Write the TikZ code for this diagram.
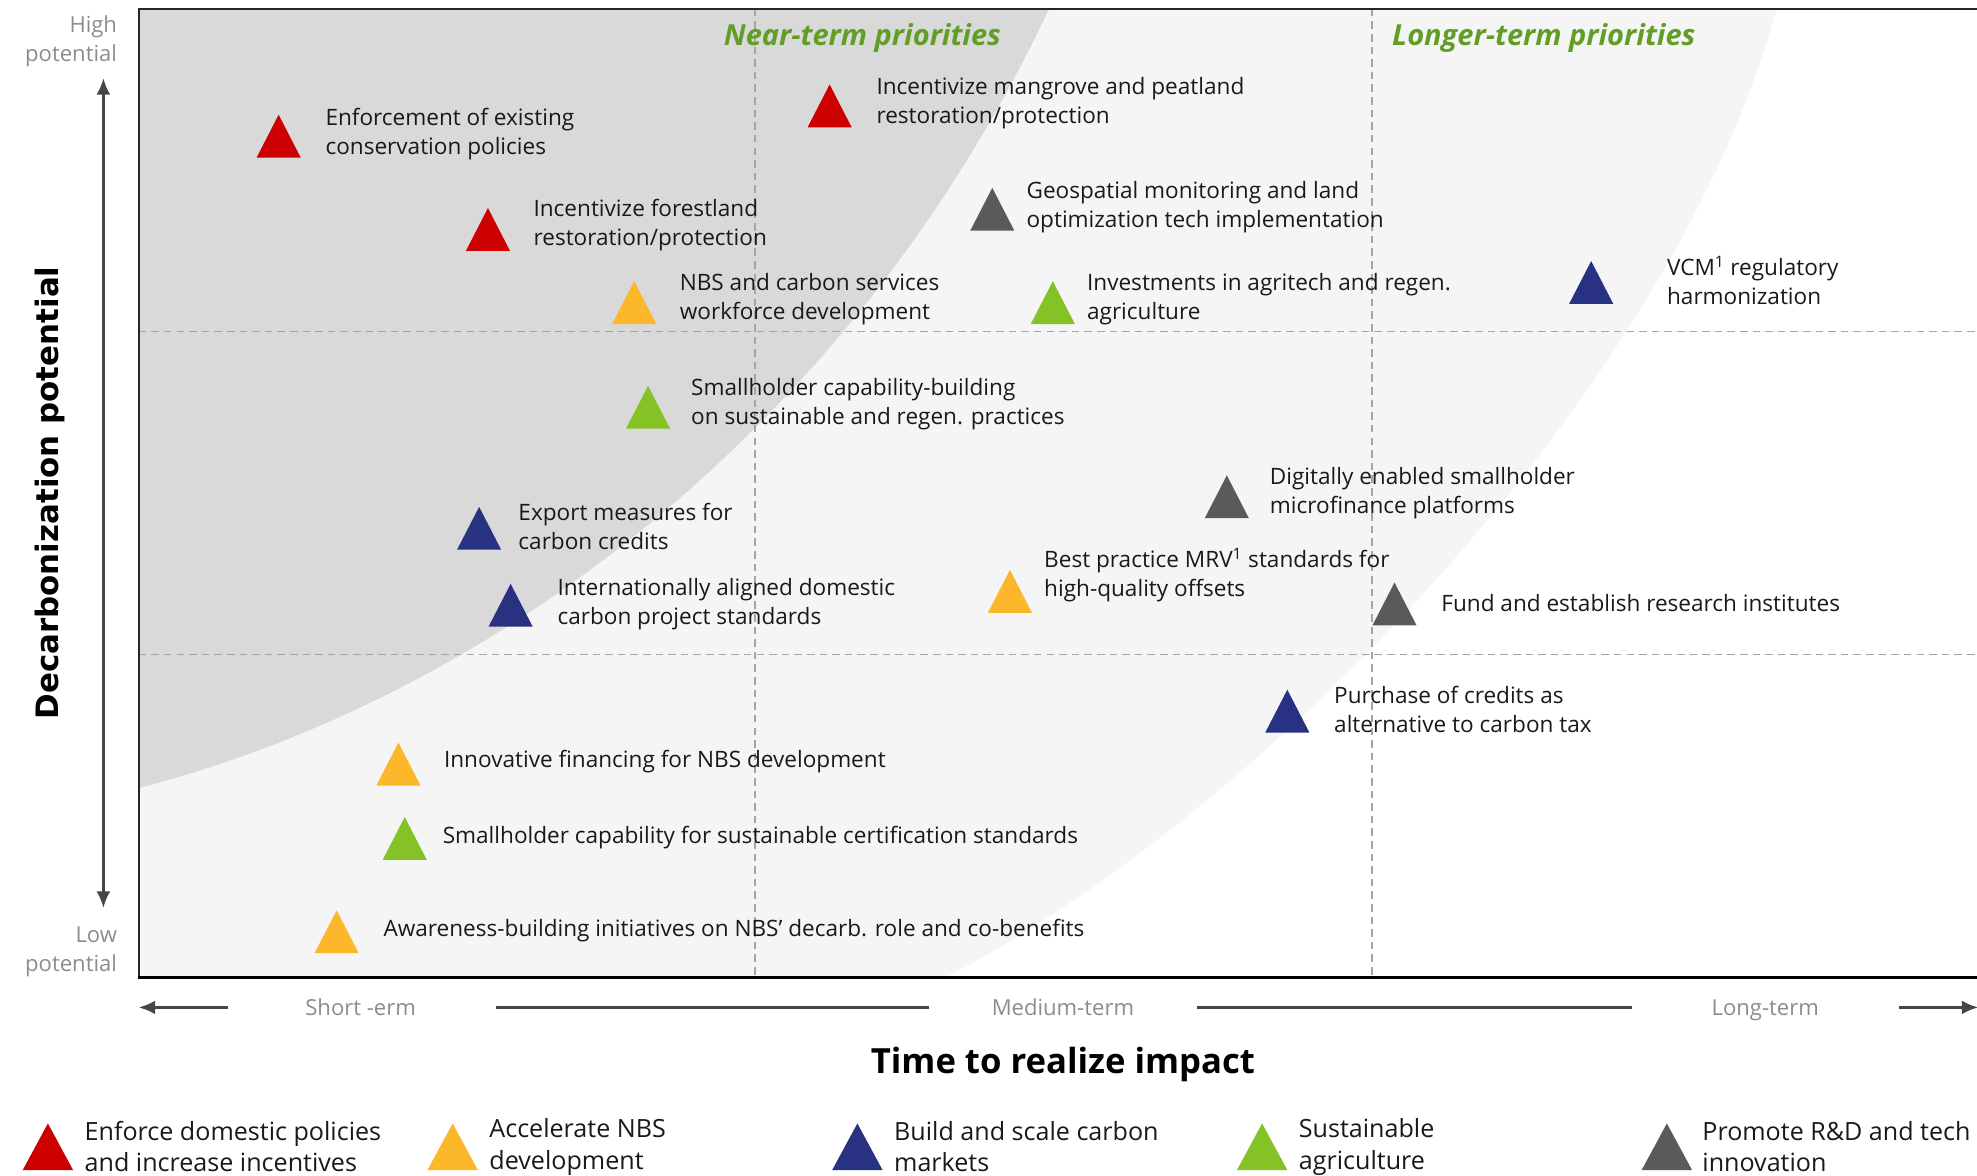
\documentclass[tikz,border=0pt]{standalone}
\usepackage{fontspec}
\setmainfont{Open Sans}
\newfontfamily\vfont{DejaVu Sans}
\usetikzlibrary{arrows.meta}
\definecolor{cRed}{RGB}{204,0,0}
\definecolor{cOrange}{RGB}{253,183,43}
\definecolor{cBlue}{RGB}{41,50,130}
\definecolor{cGreen}{RGB}{132,194,37}
\definecolor{cGray}{RGB}{90,90,90}
\definecolor{shadeDark}{RGB}{217,217,217}
\definecolor{shadeLight}{RGB}{245,245,245}
\definecolor{hdrGreen}{RGB}{98,158,38}
\definecolor{axGray}{RGB}{140,140,140}
\definecolor{txt}{RGB}{25,25,25}
\definecolor{dashGray}{RGB}{165,165,165}
\definecolor{arrGray}{RGB}{70,70,70}
\newcommand\tri[3]{\fill[#1] ({#2-17.5},#3) -- ({#2+17.5},#3) -- (#2,{#3-34}) -- cycle;}
\newcommand\ltri[3]{\fill[#1] ({#2-20},#3) -- ({#2+20},#3) -- (#2,{#3-37}) -- cycle;}
\begin{document}
\begin{tikzpicture}[x=1pt,y=-1pt,
  lbl/.style={anchor=west, align=left, inner sep=0pt, yshift=-1.5pt, text=txt, font=\fontsize{17.9}{23}\selectfont},
  lbl1/.style={lbl, yshift=1.5pt},
  leg/.style={anchor=west, align=left, inner sep=0pt, text=txt, font=\fontsize{19.9}{25}\selectfont},
  hdr/.style={inner sep=0pt, yshift=-2pt, text=hdrGreen, font=\fontsize{23}{27}\selectfont\bfseries\itshape},
  axt/.style={inner sep=0pt, text=axGray, font=\fontsize{17.5}{23}\selectfont},
  axb/.style={inner sep=0pt, anchor=base, text=axGray, font=\fontsize{17.5}{23}\selectfont},
  grid/.style={draw=dashGray, line width=1.3pt, dash pattern=on 6pt off 4pt},
  axline/.style={draw=arrGray, line width=2.2pt},
  tip/.style={-{Latex[length=13pt,width=11pt]}}
]
\useasboundingbox (0,0) rectangle (1568,932);
% shaded regions
\fill[shadeLight] (110,7) -- (1409,7) .. controls (1330,300) and (1010,640) .. (750,775) -- (110,775) -- cycle;
\fill[shadeDark] (110,7) -- (832,7) .. controls (680,330) and (400,550) .. (110,625) -- cycle;
% grid
\draw[grid] (599,7) -- (599,775);
\draw[grid] (1088,7) -- (1088,775);
\draw[grid] (110,263) -- (1568,263);
\draw[grid] (110,519) -- (1568,519);
% frame
\draw[draw=black!85, line width=1.6pt] (1570,7) -- (110,7) -- (110,775);
\draw[draw=black, line width=2.6pt] (109.2,775) -- (1570,775);
% headers
\node[hdr] (near) at (684,28) {Near-term priorities};
\node[hdr, anchor=west] (longer) at (1104,28) {Longer-term priorities};
% items
\tri{cRed}{221}{125}
\node[lbl] (t1) at (258,104.5) {Enforcement of existing\\conservation policies};
\tri{cRed}{387}{199}
\node[lbl] (t2) at (423,177) {Incentivize forestland\\restoration/protection};
\tri{cRed}{658}{101}
\node[lbl] (t3) at (695,80.5) {Incentivize mangrove and peatland\\restoration/protection};
\tri{cGray}{787}{183}
\node[lbl] (t4) at (814,162.5) {Geospatial monitoring and land\\optimization tech implementation};
\tri{cOrange}{503}{257}
\node[lbl] (t5) at (539,236) {NBS and carbon services\\workforce development};
\tri{cGreen}{835}{257}
\node[lbl] (t6) at (862,236) {Investments in agritech and regen.\\agriculture};
\tri{cBlue}{1262}{241}
\node[lbl] (t7) at (1322,221) {VCM\textsuperscript{1} regulatory\\harmonization};
\tri{cGreen}{514}{340}
\node[lbl] (t8) at (548,319) {Smallholder capability-building\\on sustainable and regen. practices};
\tri{cGray}{973}{411}
\node[lbl] (t9) at (1007,389.5) {Digitally enabled smallholder\\microfinance platforms};
\tri{cBlue}{380}{436}
\node[lbl] (t10) at (411,416) {Export measures for\\carbon credits};
\tri{cOrange}{801}{486}
\node[lbl] (t11) at (828,454.5) {Best practice MRV\textsuperscript{1} standards for\\high-quality offsets};
\tri{cBlue}{405}{497}
\node[lbl] (t12) at (442,477.5) {Internationally aligned domestic\\carbon project standards};
\tri{cGray}{1106}{496}
\node[lbl1] (t13) at (1143,478) {Fund and establish research institutes};
\tri{cBlue}{1021}{581}
\node[lbl] (t14) at (1058,561.5) {Purchase of credits as\\alternative to carbon tax};
\tri{cOrange}{316}{623}
\node[lbl1] (t15) at (352,604) {Innovative financing for NBS development};
\tri{cGreen}{321}{682}
\node[lbl1] (t16) at (351,664) {Smallholder capability for sustainable certification standards};
\tri{cOrange}{267}{756}
\node[lbl1] (t17) at (304,738) {Awareness-building initiatives on NBS’ decarb. role and co-benefits};
% vertical axis
\node[axt, anchor=east, align=right] (hi) at (93,32.5) {High\\potential};
\node[axt, anchor=east, align=right] (lo) at (93,754.5) {Low\\potential};
\coordinate (vtop) at (82,62);
\coordinate (vbot) at (82,720);
\draw[draw=arrGray, line width=2pt, {Latex[length=13pt,width=11pt]}-{Latex[length=13pt,width=11pt]}] (vtop) -- (vbot);
\node[inner sep=0pt, rotate=90, text=black, font=\vfont\fontsize{24.5}{28}\selectfont\bfseries] (ylab) at (40,391) {Decarbonization potential};
% horizontal axis
\node[axb] (st) at (286,805.5) {Short -erm};
\node[axb] (mt) at (843,805.5) {Medium-term};
\node[axb] (lt) at (1400,805.5) {Long-term};
\coordinate (h0) at (110,799);
\coordinate (h1) at (181,799);
\coordinate (h2) at (393,799);
\coordinate (h3) at (737,799);
\coordinate (h4) at (949,799);
\coordinate (h5) at (1294,799);
\coordinate (h6) at (1506,799);
\coordinate (h7) at (1569,799);
\draw[axline, tip] (h1) -- (h0);
\draw[axline] (h2) -- (h3);
\draw[axline] (h4) -- (h5);
\draw[axline, tip] (h6) -- (h7);
\node[inner sep=0pt, text=black, font=\fontsize{27.5}{32}\selectfont\bfseries] (xlab) at (843,844) {Time to realize impact};
% legend
\ltri{cRed}{38}{928}
\node[leg] (l1) at (67,909.5) {Enforce domestic policies\\and increase incentives};
\ltri{cOrange}{359}{928}
\node[leg] (l2) at (388,909.5) {Accelerate NBS\\development};
\ltri{cBlue}{680}{928}
\node[leg] (l3) at (709,909.5) {Build and scale carbon\\markets};
\ltri{cGreen}{1001}{928}
\node[leg] (l4) at (1030,909.5) {Sustainable\\agriculture};
\ltri{cGray}{1322}{928}
\node[leg] (l5) at (1350,909.5) {Promote R\&D and tech\\innovation};
\end{tikzpicture}
\end{document}
